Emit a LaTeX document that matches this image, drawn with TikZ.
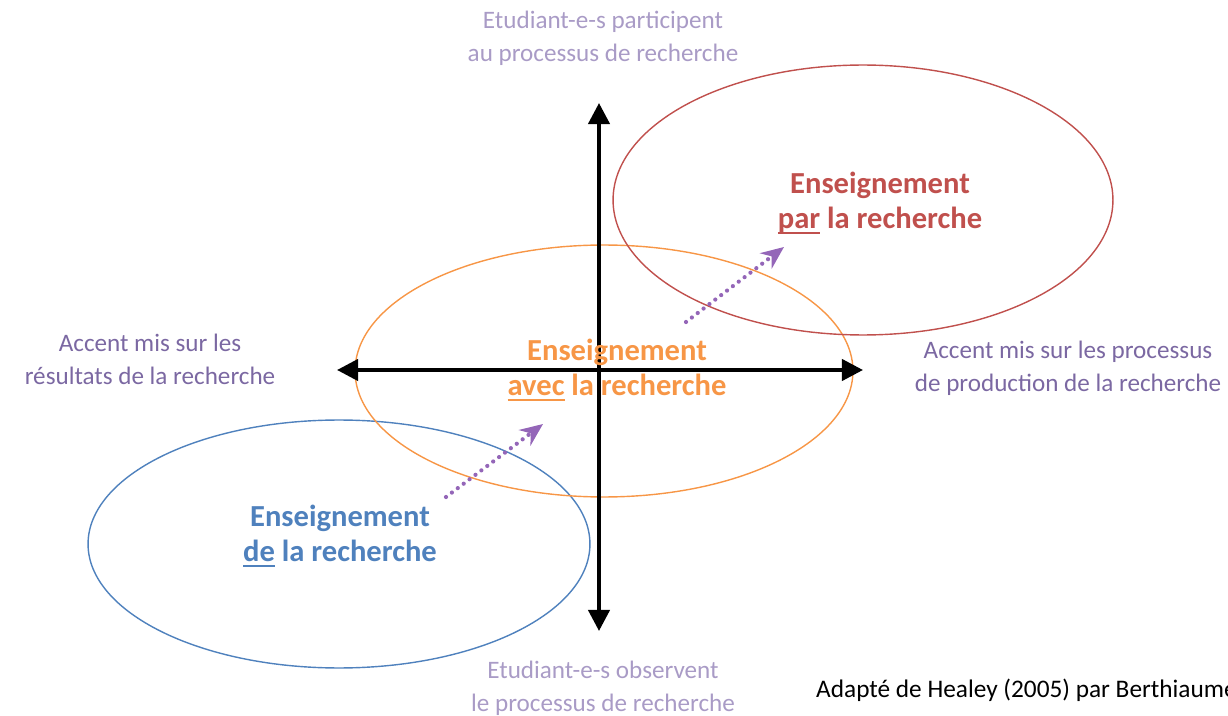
\documentclass[tikz,border=0pt]{standalone}
\usepackage{fontspec}
\setmainfont{Carlito}
\usetikzlibrary{arrows.meta}

\definecolor{parred}{HTML}{C0504D}
\definecolor{avecorange}{HTML}{F79646}
\definecolor{deblue}{HTML}{4F81BD}
\definecolor{polepurple}{HTML}{7B68A2}
\definecolor{palepurple}{HTML}{A99BC6}
\definecolor{flechepurple}{HTML}{9466B8}

% soulignement epais
\newcommand{\souligne}[1]{\leavevmode\setbox0=\hbox{#1}\rlap{\raisebox{-3.4pt}{\rule{\wd0}{1.3pt}}}\box0}

\begin{document}
\begin{tikzpicture}[x=0.02cm, y=-0.02cm,
    axe/.style={line width=2.3pt, {Triangle[width=12pt,length=12pt]}-{Triangle[width=12pt,length=12pt]}},
    zone/.style={line width=0.8pt},
    titre/.style={font=\fontsize{17.4}{20}\selectfont\bfseries, align=center},
    pole/.style={font=\fontsize{14.3}{18.8}\selectfont, align=center, text=polepurple},
    polepale/.style={pole, text=palepurple},
    passage/.style={flechepurple, line width=2.4pt, line cap=round, dash pattern=on 0pt off 4.2pt, -{Stealth[length=13pt,width=11pt]}}]
    \useasboundingbox (0,0) rectangle (1228,716);

    % les trois zones
    \draw[zone, deblue] (339,544) ellipse [x radius=5.02cm, y radius=2.48cm];
    \draw[zone, avecorange] (604,371) ellipse [x radius=4.98cm, y radius=2.52cm];
    \draw[zone, parred] (863,200) ellipse [x radius=5cm, y radius=2.7cm];

    % axes
    \coordinate (haut) at (599,103);
    \coordinate (bas) at (599,631);
    \coordinate (gauche) at (337,370);
    \coordinate (droite) at (863,370);
    \draw[axe] (bas) -- (haut);
    \draw[axe] (gauche) -- (droite);

    % titres des zones
    \node[titre, text=parred] (par) at (880,203) {Enseignement\\\souligne{par}\ la recherche};
    \node[titre, text=avecorange] (avec) at (617,370) {Enseignement\\\souligne{avec}\ la recherche};
    \node[titre, text=deblue] (de) at (340,536) {Enseignement\\\souligne{de}\ la recherche};

    % poles des axes
    \node[polepale] (participent) at (603,38) {Etudiant-e-s participent\\au processus de recherche};
    \node[polepale] (observent) at (603,688) {Etudiant-e-s observent\\le processus de recherche};
    \node[pole] (resultats) at (150,359) {Accent mis sur les\\résultats de la recherche};
    \node[pole] (processus) at (1068,368) {Accent mis sur les processus\\de production de la recherche};

    % passages d'une zone a l'autre
    \coordinate (d1) at (446,497);
    \coordinate (f1) at (543,424);
    \coordinate (d2) at (686,322);
    \coordinate (f2) at (784,247);
    \draw[passage] (d1) -- (f1);
    \draw[passage] (d2) -- (f2);

    \node[anchor=west, font=\fontsize{14.4}{17}\selectfont] (source) at (810,690) {Adapté de Healey (2005) par Berthiaume};
\end{tikzpicture}
\end{document}
